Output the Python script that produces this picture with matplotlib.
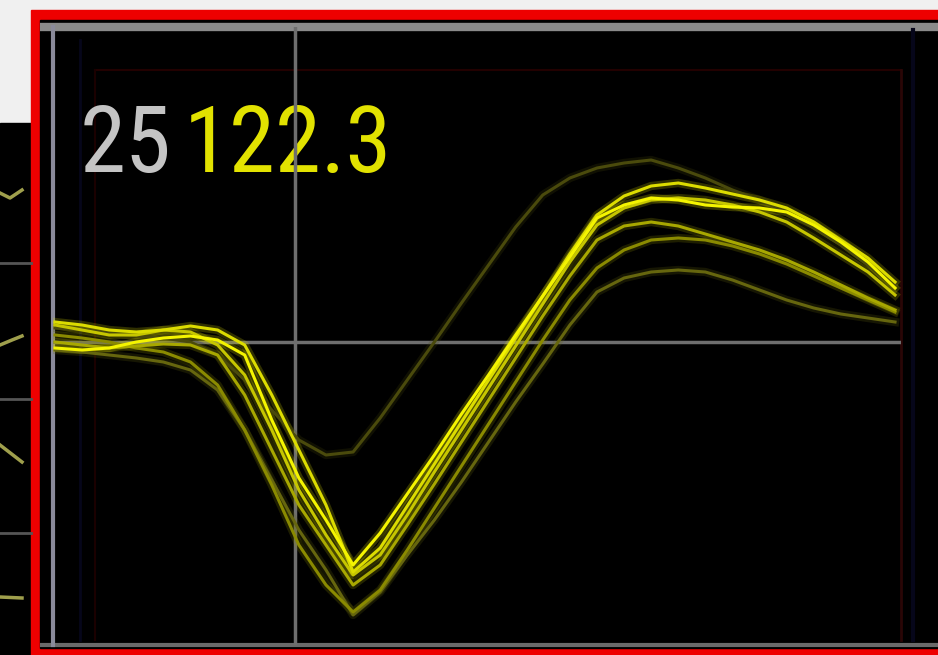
import numpy as np
import matplotlib
matplotlib.use("Agg")
import matplotlib.pyplot as plt
from matplotlib.patches import Rectangle

#=================
# data (samples / uV)
#=================
samples = np.arange(32)

trace_a = [-6, -8, -6, 0, 4, 6, 2, -13, -78, -136, -178, -223, -191, -152, -113, -72,
           -33, 7, 46, 85, 124, 137, 144, 142, 137, 135, 134, 130, 117, 100, 80, 54]
trace_b = [20, 17, 12, 10, 12, 16, 12, -3, -53, -108, -163, -230, -206, -164, -122, -80,
           -38, 4, 46, 88, 127, 146, 156, 159, 154, 148, 142, 134, 120, 102, 84, 60]
trace_c = [7, 4, 0, -6, -10, -20, -43, -88, -143, -203, -243, -270, -248, -208, -166, -124,
           -82, -40, 2, 42, 74, 92, 102, 104, 102, 96, 88, 78, 66, 54, 42, 30]
trace_d = [14, 12, 9, 6, 4, 0, -13, -38, -68, -98, -113, -110, -76, -38, 0, 39,
           77, 115, 147, 164, 174, 179, 182, 174, 164, 152, 142, 130, 114, 97, 77, 57]
trace_e = [0, -3, -6, -4, -2, -3, -13, -53, -108, -163, -203, -243, -223, -183, -142, -100,
           -58, -16, 26, 66, 102, 116, 120, 116, 108, 100, 92, 82, 70, 57, 44, 32]
trace_f = [-8, -10, -13, -16, -20, -28, -48, -88, -138, -188, -228, -273, -250, -213, -178, -140,
           -100, -60, -22, 17, 50, 64, 70, 72, 70, 62, 52, 42, 34, 28, 24, 20]
trace_g = [17, 12, 7, 7, 12, 10, -3, -33, -88, -148, -193, -233, -213, -173, -130, -88,
           -46, -4, 38, 80, 117, 134, 142, 144, 142, 137, 130, 120, 104, 87, 70, 47]

# dim first, bright last
traces = [trace_d, trace_f, trace_c, trace_e, trace_g, trace_b, trace_a]
trace_colors = ["#4a4a0c", "#66660e", "#8a8a00", "#a8a800", "#c6c600", "#dcdc00", "#f4f400"]

cursor_x = 8.86
cursor_y = 0

channel_label = "25"
amp_label = "122.3"

# bits of the neighbouring panel on the left edge
side_x = [[0, 10, 22], [0, 12, 22], [0, 22], [0, 22]]
side_y = [[193, 198, 190], [345, 340, 336], [445, 462], [597, 598]]
side_rows = [263, 399, 533]


#=================
# figure
#=================
fig = plt.figure(figsize=(9.38, 6.55), dpi=100)
fig.patch.set_facecolor("#f0f0f0")

# pixel-space background layer for the frame
bg = fig.add_axes([0, 0, 1, 1])
bg.set_xlim(0, 938)
bg.set_ylim(655, 0)
bg.axis("off")

bg.add_patch(Rectangle((0, 123), 31, 540, color="black"))
for row in side_rows:
    bg.plot([0, 31], [row, row], color="#555555", lw=2)
for xs, ys in zip(side_x, side_y):
    bg.plot(xs, ys, color="#c8c860", lw=2.5, alpha=0.8)

bg.add_patch(Rectangle((31, 10), 920, 660, color="#ee0000"))
bg.add_patch(Rectangle((40, 20), 910, 628, color="black"))

# scope border lines
bg.plot([40, 938], [27, 27], color="#8a8a8a", lw=6, solid_capstyle="butt")
bg.plot([40, 938], [645, 645], color="#6a6a6a", lw=3, solid_capstyle="butt")
bg.plot([53, 53], [27, 645], color="#8a8a9a", lw=3)

# faint inner plot frame
bg.plot([95, 901], [70, 70], color="#220000", lw=1.5)
bg.plot([95, 95], [70, 640], color="#1a0000", lw=1.5)
bg.plot([80, 80], [40, 640], color="#06061a", lw=2)
bg.plot([901, 901], [70, 640], color="#2a0606", lw=2)
bg.plot([913, 913], [30, 640], color="#06061a", lw=3)

ax = fig.add_axes([53 / 938, 10 / 655, 848 / 938, 618 / 655])
ax.set_facecolor("none")
ax.set_xlim(-0.074, 31.22)
ax.set_ylim(-303, 315)
ax.set_xticks([])
ax.set_yticks([])
for side in ax.spines.values():
    side.set_visible(False)

ax.axvline(cursor_x, color="#6e6e6e", lw=2.5, zorder=1)
ax.axhline(cursor_y, color="#6e6e6e", lw=2.5, zorder=1)

for tr, col in zip(traces, trace_colors):
    ax.plot(samples, tr, color=col, lw=6, alpha=0.22, solid_joinstyle="round", zorder=2)
    ax.plot(samples, tr, color=col, lw=2.2, solid_joinstyle="round", zorder=3)

bg.text(80, 172, channel_label, color="#c4c4c4", fontsize=67, family="Roboto Condensed",
        ha="left", va="baseline")
bg.text(184, 172, amp_label, color="#e2e200", fontsize=67, family="Roboto Condensed",
        ha="left", va="baseline")

plt.savefig("out.png", dpi=100, facecolor=fig.get_facecolor())
plt.close()
